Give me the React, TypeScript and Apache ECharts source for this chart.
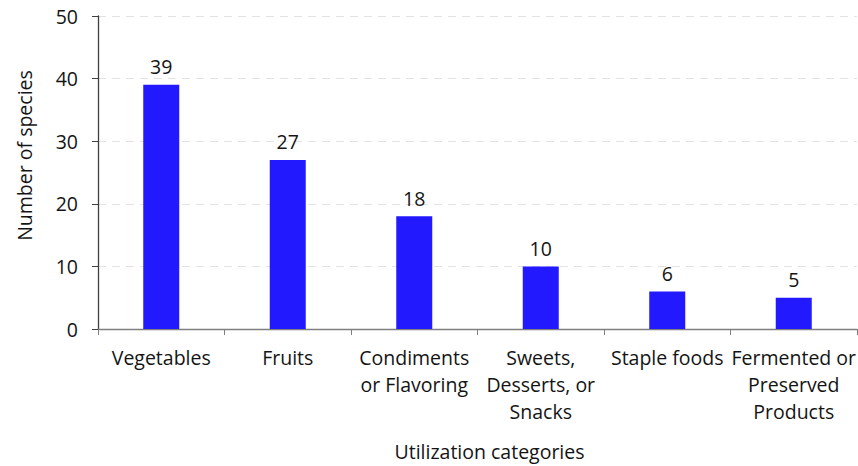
import React, { useEffect, useRef } from "react";
import * as echarts from "echarts";

const categories = [
  "Vegetables",
  "Fruits",
  "Condiments\nor Flavoring",
  "Sweets,\nDesserts, or\nSnacks",
  "Staple foods",
  "Fermented or\nPreserved\nProducts",
];
const speciesCounts = [39, 27, 18, 10, 6, 5];
const yTicks = { min: 0, max: 50, interval: 10 };

const FONT = "'Open Sans', 'Noto Sans', sans-serif";
const TEXT = "#141414";

export default function App() {
  const ref = useRef<HTMLDivElement>(null);
  useEffect(() => {
    if (!ref.current) return;
    const chart = echarts.init(ref.current, null, { renderer: "svg" });
    chart.setOption({
      animation: false,
      backgroundColor: "#ffffff",
      textStyle: { fontFamily: FONT },
      grid: {
        left: 98,
        right: 1,
        top: 16,
        bottom: 137,
        containLabel: false,
        outerBoundsMode: "none",
      },
      xAxis: {
        type: "category",
        data: categories,
        boundaryGap: true,
        name: "Utilization categories",
        nameLocation: "middle",
        nameGap: 112,
        nameTextStyle: {
          fontSize: 19.5,
          color: TEXT,
          fontFamily: FONT,
          padding: [0, 0, 0, 24],
        },
        axisLine: { show: true, lineStyle: { color: "#7f7f7f", width: 1.3 } },
        axisTick: { show: true, length: 6, alignWithLabel: false, lineStyle: { color: "#7f7f7f" } },
        axisLabel: {
          interval: 0,
          margin: 15,
          fontSize: 19.5,
          lineHeight: 27,
          color: TEXT,
          fontFamily: FONT,
          align: "center",
        },
        splitLine: { show: false },
      },
      yAxis: {
        type: "value",
        min: yTicks.min,
        max: yTicks.max,
        interval: yTicks.interval,
        name: "Number of species",
        nameLocation: "middle",
        nameGap: 64,
        nameRotate: 90,
        nameTextStyle: {
          fontSize: 19.5,
          color: TEXT,
          fontFamily: FONT,
          padding: [0, 0, 0, 34],
        },
        axisLine: { show: true, lineStyle: { color: "#404040", width: 1.3 } },
        axisTick: { show: true, length: 6, lineStyle: { color: "#404040" } },
        axisLabel: { margin: 20, fontSize: 19.5, color: TEXT, fontFamily: FONT },
        splitLine: {
          show: true,
          lineStyle: { color: "#e3e3e3", type: [8, 6], width: 1 },
        },
      },
      series: [
        {
          type: "bar",
          data: speciesCounts,
          barWidth: 36,
          itemStyle: { color: "#2219ff" },
          label: {
            show: true,
            position: "top",
            distance: 8,
            fontSize: 19.5,
            color: TEXT,
            fontFamily: FONT,
          },
        },
      ],
    });
    return () => chart.dispose();
  }, []);
  return <div ref={ref} style={{ width: 858, height: 466, position: "absolute", left: 0, top: 0 }} />;
}
